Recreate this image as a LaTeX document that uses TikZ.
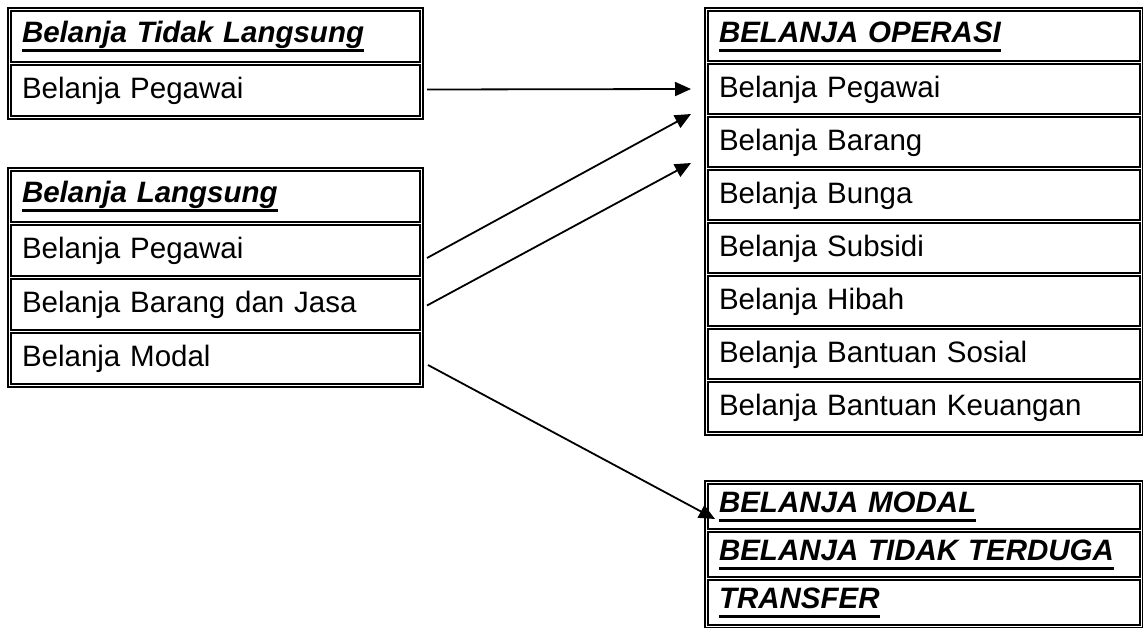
\documentclass[tikz,border=0pt]{standalone}
\usepackage{fontspec}
\setmainfont{Liberation Sans}
\usetikzlibrary{positioning,arrows.meta}

% 带下划线的标题
\newcommand{\hdr}[1]{\setbox0\hbox{\bfseries\itshape #1}\raisebox{2pt}{\rlap{\rule[-9.5pt]{\wd0}{2.8pt}}\box0}}

\begin{document}
\begin{tikzpicture}[
                x=1pt, y=-1pt,
                cell/.style={
                    draw,
                    line width=1.8pt,
                    outer sep=0pt,
                    inner xsep=11pt,
                    inner ysep=0pt,
                    text height=22pt,
                    text depth=6pt,
                    align=left,
                    anchor=north west,
                    font=\fontsize{29.5}{34}\selectfont
                },
                wcell/.style={cell, text width=387pt, minimum height=51pt},
                ecell/.style={cell, text width=410pt, minimum height=50pt},
                mcell/.style={cell, text width=410pt, minimum height=45pt},
                frame/.style={line width=2.6pt},
                arrow/.style={-{Triangle[length=16pt,width=14pt]}, line width=1.8pt}
            ]
                \useasboundingbox (0,0) rectangle (1143,627);

                % 左上表
                \node[wcell] (t1a) at (11,11) {\hdr{Belanja Tidak Langsung}};
                \node[wcell] (t1b) [below=3pt of t1a] {Belanja Pegawai};
                \draw[frame] ([shift={(-3pt,3pt)}]t1a.north west) rectangle ([shift={(3pt,-3pt)}]t1b.south east);

                % 左下表
                \node[wcell] (lhead) at (11,171) {\hdr{Belanja Langsung}};
                \node[wcell] (lpeg) [below=3pt of lhead] {Belanja Pegawai};
                \node[wcell] (lbrg) [below=3pt of lpeg] {Belanja Barang dan Jasa};
                \node[wcell] (lmod) [below=3pt of lbrg] {Belanja Modal};
                \draw[frame] ([shift={(-3pt,3pt)}]lhead.north west) rectangle ([shift={(3pt,-3pt)}]lmod.south east);

                % 右上表
                \node[ecell] (ophead) at (708,11) {\hdr{BELANJA OPERASI}};
                \node[ecell] (oppeg) [below=3pt of ophead] {Belanja Pegawai};
                \node[ecell] (opbrg) [below=3pt of oppeg] {Belanja Barang};
                \node[ecell] (opbunga) [below=3pt of opbrg] {Belanja Bunga};
                \node[ecell] (opsub) [below=3pt of opbunga] {Belanja Subsidi};
                \node[ecell] (ophibah) [below=3pt of opsub] {Belanja Hibah};
                \node[ecell] (opsos) [below=3pt of ophibah] {Belanja Bantuan Sosial};
                \node[ecell] (opkeu) [below=3pt of opsos] {Belanja Bantuan Keuangan};
                \draw[frame] ([shift={(-3pt,3pt)}]ophead.north west) rectangle ([shift={(3pt,-3pt)}]opkeu.south east);

                % 右下表
                \node[mcell] (bmodal) at (708,484) {\hdr{BELANJA MODAL}};
                \node[mcell] (btt) [below=3pt of bmodal] {\hdr{BELANJA TIDAK TERDUGA}};
                \node[mcell] (btrans) [below=3pt of btt] {\hdr{TRANSFER}};
                \draw[frame] ([shift={(-3pt,3pt)}]bmodal.north west) rectangle ([shift={(3pt,-3pt)}]btrans.south east);

                % 箭头
                \draw[arrow] ([shift={(7pt,1pt)}]t1b.east) -- ([xshift=-17pt]oppeg.west);
                \draw[arrow] ([shift={(7pt,-7.5pt)}]lpeg.east) -- ([xshift=-17pt]oppeg.south west);
                \draw[arrow] ([shift={(7pt,-1pt)}]lbrg.east) -- ([shift={(-17pt,4pt)}]opbrg.south west);
                \draw[arrow] ([shift={(8pt,-6.5pt)}]lmod.east) -- ([shift={(7pt,-12.5pt)}]bmodal.west);
            \end{tikzpicture}
\end{document}
